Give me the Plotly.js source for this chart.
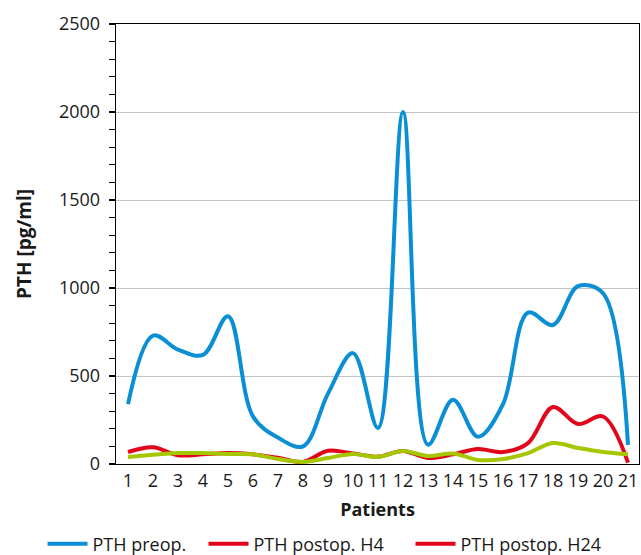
<!DOCTYPE html>
<html>
<head>
<meta charset="utf-8">
<script src="https://cdn.plot.ly/plotly-3.0.1.min.js"></script>
<style>html,body{margin:0;padding:0;background:#fff;}#chart{width:641px;height:555px;}</style>
</head>
<body>
<div id="chart"></div>
<script>
const patients = [1,2,3,4,5,6,7,8,9,10,11,12,13,14,15,16,17,18,19,20,21];
const pthPreop = [340,730,650,620,840,270,150,100,400,630,205,2000,110,365,155,340,860,790,1010,970,108];
const pthH4 = [68,95,50,55,62,55,35,12,75,60,42,74,34,55,85,68,119,324,227,270,8];
const pthH24 = [40,52,62,62,57,55,28,12,34,57,40,74,45,60,23,28,62,119,91,68,55];
const tickLabels = patients.map(String);

const colBlue = '#0a8fd5';
const colRed = '#e3061b';
const colGreen = '#a6c600';
const font = 'Open Sans, Noto Sans, sans-serif';

const traces = [
  {x: patients, y: pthPreop, name: 'PTH preop.', mode: 'lines', legend: 'legend',
   line: {color: colBlue, width: 4, shape: 'spline', smoothing: 1}},
  {x: patients, y: pthH4, name: 'PTH postop. H4', mode: 'lines', legend: 'legend2',
   line: {color: colRed, width: 4, shape: 'spline', smoothing: 1}},
  {x: patients, y: pthH24, name: 'PTH postop. H24', mode: 'lines', showlegend: false,
   line: {color: colGreen, width: 4, shape: 'spline', smoothing: 1}},
  {x: [null], y: [null], name: 'PTH postop. H24', mode: 'lines', legend: 'legend3',
   line: {color: colRed, width: 4}}
];

function leg(xpx) {
  return {orientation: 'h', xref: 'container', yref: 'container',
          x: xpx / 641, xanchor: 'left', y: 11 / 555, yanchor: 'middle', itemwidth: 40,
          font: {family: font, size: 18, color: '#1a1a1a'}, bgcolor: 'rgba(0,0,0,0)'};
}

const layout = {
  width: 641, height: 555,
  margin: {l: 116, r: 2, t: 24, b: 91},
  paper_bgcolor: '#fff', plot_bgcolor: '#fff',
  font: {family: font, size: 18, color: '#1a1a1a'},
  showlegend: true,
  legend: leg(42.5),
  legend2: leg(203.5),
  legend3: leg(410.5),
  xaxis: {range: [0.52, 21.44], tickvals: patients, ticktext: tickLabels,
          showgrid: false, zeroline: false, showline: true, linecolor: '#000', linewidth: 1.3,
          mirror: true, ticks: '', tickfont: {size: 18},
          title: {text: '<b>Patients</b>', font: {size: 18}, standoff: 12}},
  yaxis: {range: [0, 2500], tickvals: [0,500,1000,1500,2000,2500],
          showgrid: true, gridcolor: '#c4c4c4', gridwidth: 1, zeroline: false,
          showline: true, linecolor: '#000', linewidth: 1.3, mirror: true,
          ticks: 'outside', ticklen: 6, tickcolor: '#000', tickwidth: 1.2,
          ticklabelstandoff: 5,
          minor: {dtick: 100, ticks: 'outside', ticklen: 6, tickcolor: '#000', tickwidth: 1.2, showgrid: false},
          tickfont: {size: 18},
          title: {text: '<b>PTH [pg/ml]</b>', font: {size: 19}, standoff: 22}}
};

Plotly.newPlot('chart', traces, layout, {displayModeBar: false, staticPlot: true});
</script>
</body>
</html>
